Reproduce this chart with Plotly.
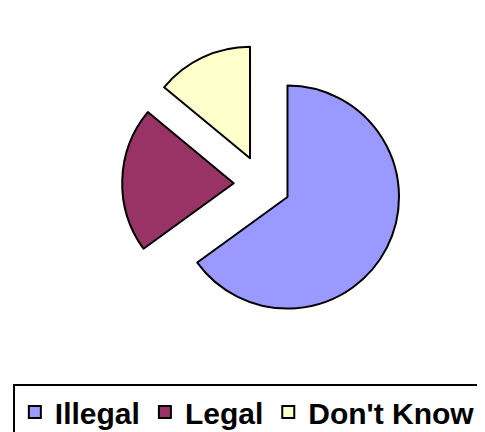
import plotly.graph_objects as go

labels = ["Illegal", "Legal", "Don't Know"]
values = [65, 21, 14]
colors = ["#9999FF", "#993366", "#FFFFCC"]

fig = go.Figure()

fig.add_trace(
    go.Pie(
        labels=labels,
        values=values,
        sort=False,
        direction="clockwise",
        rotation=0,
        pull=[0.255, 0.255, 0.255],
        marker=dict(colors=colors, line=dict(color="black", width=2)),
        textinfo="none",
        hoverinfo="label+value",
        domain=dict(x=[0.234, 0.814], y=[0.265, 0.916]),
    )
)

fig.update_layout(
    width=485,
    height=432,
    margin=dict(l=0, r=0, t=0, b=0),
    paper_bgcolor="white",
    showlegend=True,
    legend=dict(
        orientation="h",
        x=0.01,
        y=0.125,
        xanchor="left",
        yanchor="top",
        bordercolor="black",
        borderwidth=2,
        itemwidth=30,
        font=dict(family="Liberation Sans, Arial", size=30, color="black", weight="bold"),
        traceorder="normal",
    ),
)

fig.write_html("out.html")
